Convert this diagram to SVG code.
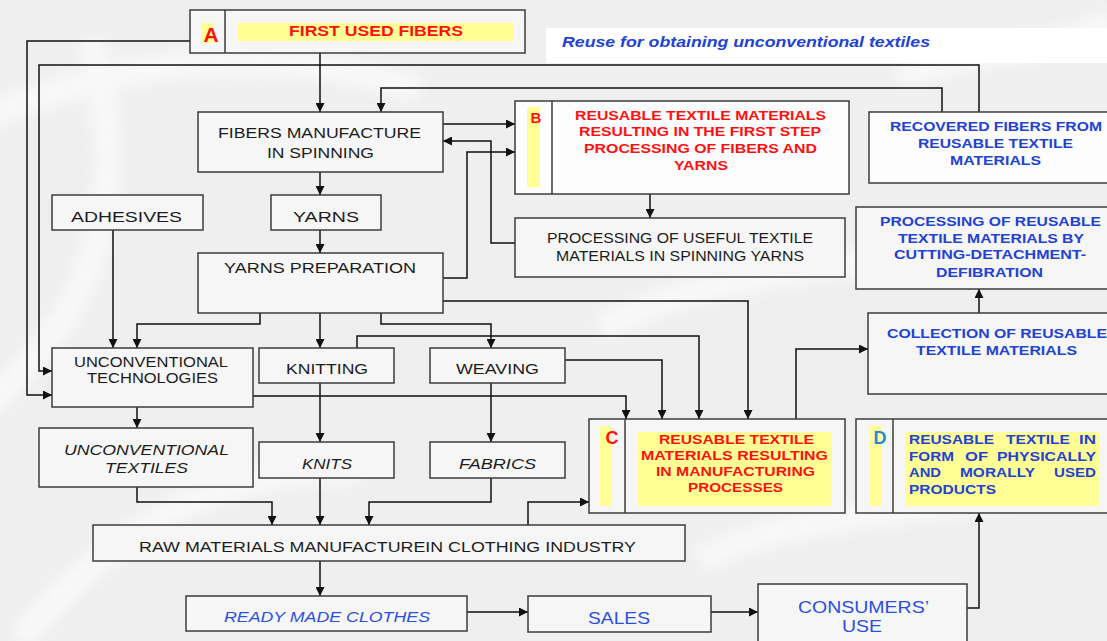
<svg xmlns="http://www.w3.org/2000/svg" width="1107" height="641" viewBox="0 0 1107 641">
<defs>
<marker id="ah" viewBox="0 0 10 10" refX="10" refY="5" markerWidth="9" markerHeight="9" markerUnits="userSpaceOnUse" orient="auto"><path d="M0,0 L10,5 L0,10 z" fill="#111"/></marker>
<filter id="blur" x="-20%" y="-20%" width="140%" height="140%"><feGaussianBlur stdDeviation="7"/></filter>
<style>
.box{fill:#f6f6f6;stroke:#3c3c3c;stroke-width:1.5}
.wbox{fill:#fdfdfd;stroke:#3c3c3c;stroke-width:1.5}
.div{stroke:#3c3c3c;stroke-width:1.5}
.yel{fill:#ffff96}
.t{font-family:"Liberation Sans",Arial,sans-serif;font-size:15px;fill:#1c1c1c}
.ti{font-family:"Liberation Sans",Arial,sans-serif;font-size:15px;font-style:italic;fill:#1c1c1c}
.red{font-family:"Liberation Sans",Arial,sans-serif;font-size:13.5px;font-weight:bold;fill:#ff1010}
.blue{font-family:"Liberation Sans",Arial,sans-serif;font-size:13.5px;font-weight:bold;fill:#2242d2}
.lb{font-family:"Liberation Sans",Arial,sans-serif;font-size:17px;fill:#2b50dc}
.lbi{font-family:"Liberation Sans",Arial,sans-serif;font-size:15.5px;font-style:italic;fill:#2b50dc}
.conn path{fill:none;stroke:#111;stroke-width:1.5;marker-end:url(#ah)}
</style>
</defs>
<rect x="0" y="0" width="1107" height="641" fill="#efefef"/>
<g filter="url(#blur)" fill="none" stroke="#fcfcfc" stroke-width="26" opacity="0.7">
<path d="M-20,120 C120,60 260,40 420,90"/>
<path d="M-30,420 C80,330 140,220 90,40"/>
<path d="M20,640 C120,520 220,470 360,470"/>
<path d="M600,330 C720,260 860,280 980,230"/>
<path d="M700,560 C820,500 960,520 1110,470"/>
<path d="M900,80 C980,40 1050,60 1110,20"/>
</g>
<rect x="546" y="28" width="561" height="35" fill="#ffffff"/>
<text class="blue" x="562" y="47" style="font-style:italic;font-size:15px" textLength="368" lengthAdjust="spacingAndGlyphs">Reuse for obtaining unconventional textiles</text>

<g class="conn" id="connectors">
<path d="M320,53 V112"/>
<path d="M190,41 H27 V395 H52"/>
<path d="M979,112 V65 H39 V371 H52"/>
<path d="M942,112 V88 H381 V112"/>
<path d="M443,124 H515"/>
<path d="M515,243 H491 V141 H443"/>
<path d="M443,278 H467 V152 H515"/>
<path d="M650,194 V218"/>
<path d="M320,172 V195"/>
<path d="M320,230 V253"/>
<path d="M113,230 V348"/>
<path d="M260,313 V324 H137 V348"/>
<path d="M320,313 V348"/>
<path d="M381,313 V324 H491 V348"/>
<path d="M443,301 H748 V419"/>
<path d="M357,348 V336 H699 V419"/>
<path d="M565,360 H662 V419"/>
<path d="M253,396 H626 V419"/>
<path d="M796,419 V349 H868"/>
<path d="M979,313 V289"/>
<path d="M137,407 V428"/>
<path d="M320,383 V442"/>
<path d="M491,383 V442"/>
<path d="M137,487 V502 H272 V525"/>
<path d="M320,478 V525"/>
<path d="M491,478 V502 H369 V525"/>
<path d="M528,525 V502 H589"/>
<path d="M320,561 V596"/>
<path d="M467,612 H528"/>
<path d="M711,612 H758"/>
<path d="M967,608 H979 V513"/>
</g>

<g id="nodeA">
<rect class="box" x="190" y="10" width="335" height="43"/>
<line class="div" x1="225" y1="10" x2="225" y2="53"/>
<rect class="yel" x="202" y="23" width="12" height="20"/>
<rect class="yel" x="237" y="23" width="276" height="18"/>
<text class="red" x="211" y="42" style="font-size:21px" text-anchor="middle">A</text>
<text class="red" x="289" y="36" style="font-size:14.5px" textLength="174" lengthAdjust="spacingAndGlyphs">FIRST USED FIBERS</text>
</g>

<g id="fibersManufacture">
<rect class="box" x="198" y="112" width="245" height="60"/>
<text class="t" x="218" y="138" textLength="203" lengthAdjust="spacingAndGlyphs">FIBERS MANUFACTURE</text>
<text class="t" x="267" y="158" textLength="107" lengthAdjust="spacingAndGlyphs">IN SPINNING</text>
</g>

<g id="nodeB">
<rect class="wbox" x="515" y="101" width="334" height="93"/>
<line class="div" x1="552" y1="101" x2="552" y2="194"/>
<rect class="yel" x="527" y="107" width="13" height="80"/>
<text class="red" x="536" y="123" style="font-size:15px" text-anchor="middle">B</text>
<text class="red" x="575" y="120" textLength="251" lengthAdjust="spacingAndGlyphs">REUSABLE TEXTILE MATERIALS</text>
<text class="red" x="579" y="136" textLength="242" lengthAdjust="spacingAndGlyphs">RESULTING IN THE FIRST STEP</text>
<text class="red" x="584" y="153" textLength="233" lengthAdjust="spacingAndGlyphs">PROCESSING OF FIBERS AND</text>
<text class="red" x="674" y="170" textLength="54" lengthAdjust="spacingAndGlyphs">YARNS</text>
</g>

<g id="recoveredFibers">
<rect class="wbox" x="869" y="112" width="250" height="71"/>
<text class="blue" x="890" y="131" textLength="212" lengthAdjust="spacingAndGlyphs">RECOVERED FIBERS FROM</text>
<text class="blue" x="918" y="148" textLength="155" lengthAdjust="spacingAndGlyphs">REUSABLE TEXTILE</text>
<text class="blue" x="950" y="165" textLength="91" lengthAdjust="spacingAndGlyphs">MATERIALS</text>
</g>

<g id="adhesives">
<rect class="box" x="52" y="195" width="151" height="35"/>
<text class="t" x="71" y="222" textLength="111" lengthAdjust="spacingAndGlyphs">ADHESIVES</text>
</g>

<g id="yarns">
<rect class="box" x="271" y="195" width="110" height="35"/>
<text class="t" x="293" y="222" textLength="66" lengthAdjust="spacingAndGlyphs">YARNS</text>
</g>

<g id="processingUseful">
<rect class="box" x="515" y="218" width="330" height="59"/>
<text class="t" x="547" y="243" textLength="266" lengthAdjust="spacingAndGlyphs">PROCESSING OF USEFUL TEXTILE</text>
<text class="t" x="556" y="261" textLength="248" lengthAdjust="spacingAndGlyphs">MATERIALS IN SPINNING YARNS</text>
</g>

<g id="yarnsPreparation">
<rect class="box" x="198" y="253" width="245" height="60"/>
<text class="t" x="224" y="273" textLength="192" lengthAdjust="spacingAndGlyphs">YARNS PREPARATION</text>
</g>

<g id="processingReusable">
<rect class="box" x="856" y="207" width="262" height="82"/>
<text class="blue" x="880" y="226" textLength="221" lengthAdjust="spacingAndGlyphs">PROCESSING OF REUSABLE</text>
<text class="blue" x="898" y="243" textLength="186" lengthAdjust="spacingAndGlyphs">TEXTILE MATERIALS BY</text>
<text class="blue" x="894" y="259" textLength="192" lengthAdjust="spacingAndGlyphs">CUTTING-DETACHMENT-</text>
<text class="blue" x="936" y="277" textLength="107" lengthAdjust="spacingAndGlyphs">DEFIBRATION</text>
</g>

<g id="collection">
<rect class="box" x="868" y="313" width="250" height="81"/>
<text class="blue" x="887" y="338" textLength="220" lengthAdjust="spacingAndGlyphs">COLLECTION OF REUSABLE</text>
<text class="blue" x="916" y="355" textLength="161" lengthAdjust="spacingAndGlyphs">TEXTILE MATERIALS</text>
</g>

<g id="unconventionalTechnologies">
<rect class="box" x="52" y="348" width="201" height="59"/>
<text class="t" x="74" y="367" textLength="154" lengthAdjust="spacingAndGlyphs">UNCONVENTIONAL</text>
<text class="t" x="87" y="383" textLength="131" lengthAdjust="spacingAndGlyphs">TECHNOLOGIES</text>
</g>

<g id="knitting">
<rect class="box" x="259" y="348" width="135" height="35"/>
<text class="t" x="286" y="374" textLength="82" lengthAdjust="spacingAndGlyphs">KNITTING</text>
</g>

<g id="weaving">
<rect class="box" x="430" y="348" width="135" height="35"/>
<text class="t" x="456" y="374" textLength="83" lengthAdjust="spacingAndGlyphs">WEAVING</text>
</g>

<g id="nodeC">
<rect class="box" x="589" y="419" width="256" height="94"/>
<line class="div" x1="625" y1="419" x2="625" y2="513"/>
<rect class="yel" x="600" y="426" width="12" height="80"/>
<rect class="yel" x="637" y="432" width="195" height="74"/>
<text class="red" x="612" y="444" style="font-size:18px" text-anchor="middle">C</text>
<text class="red" x="659" y="444" textLength="155" lengthAdjust="spacingAndGlyphs">REUSABLE TEXTILE</text>
<text class="red" x="641" y="460" textLength="187" lengthAdjust="spacingAndGlyphs">MATERIALS RESULTING</text>
<text class="red" x="656" y="476" textLength="159" lengthAdjust="spacingAndGlyphs">IN MANUFACTURING</text>
<text class="red" x="688" y="492" textLength="95" lengthAdjust="spacingAndGlyphs">PROCESSES</text>
</g>

<g id="nodeD">
<rect class="box" x="856" y="419" width="262" height="94"/>
<line class="div" x1="893" y1="419" x2="893" y2="513"/>
<rect class="yel" x="869" y="426" width="13" height="80"/>
<rect class="yel" x="905" y="432" width="194" height="74"/>
<text class="blue" x="880" y="444" style="font-size:18px;fill:#1e8ad4" text-anchor="middle">D</text>
<text class="blue" y="444"><tspan x="909" textLength="85" lengthAdjust="spacingAndGlyphs">REUSABLE</tspan><tspan x="1006" textLength="64" lengthAdjust="spacingAndGlyphs">TEXTILE</tspan><tspan x="1079" textLength="17" lengthAdjust="spacingAndGlyphs">IN</tspan></text>
<text class="blue" y="461"><tspan x="909" textLength="45" lengthAdjust="spacingAndGlyphs">FORM</tspan><tspan x="965" textLength="23" lengthAdjust="spacingAndGlyphs">OF</tspan><tspan x="997" textLength="99" lengthAdjust="spacingAndGlyphs">PHYSICALLY</tspan></text>
<text class="blue" y="477"><tspan x="909" textLength="32" lengthAdjust="spacingAndGlyphs">AND</tspan><tspan x="960" textLength="75" lengthAdjust="spacingAndGlyphs">MORALLY</tspan><tspan x="1054" textLength="42" lengthAdjust="spacingAndGlyphs">USED</tspan></text>
<text class="blue" x="909" y="494" textLength="87" lengthAdjust="spacingAndGlyphs">PRODUCTS</text>
</g>

<g id="unconventionalTextiles">
<rect class="box" x="39" y="428" width="214" height="59"/>
<text class="ti" x="64" y="455" textLength="165" lengthAdjust="spacingAndGlyphs">UNCONVENTIONAL</text>
<text class="ti" x="105" y="473" textLength="83" lengthAdjust="spacingAndGlyphs">TEXTILES</text>
</g>

<g id="knits">
<rect class="box" x="259" y="442" width="135" height="36"/>
<text class="ti" x="302" y="469" textLength="50" lengthAdjust="spacingAndGlyphs">KNITS</text>
</g>

<g id="fabrics">
<rect class="box" x="430" y="442" width="135" height="36"/>
<text class="ti" x="459" y="469" textLength="77" lengthAdjust="spacingAndGlyphs">FABRICS</text>
</g>

<g id="rawMaterials">
<rect class="box" x="93" y="525" width="592" height="36"/>
<text class="t" x="139" y="552" textLength="497" lengthAdjust="spacingAndGlyphs">RAW MATERIALS MANUFACTUREIN CLOTHING INDUSTRY</text>
</g>

<g id="readyMadeClothes">
<rect class="box" x="186" y="596" width="281" height="35"/>
<text class="lbi" x="224" y="622" textLength="206" lengthAdjust="spacingAndGlyphs">READY MADE CLOTHES</text>
</g>

<g id="sales">
<rect class="box" x="528" y="596" width="183" height="36"/>
<text class="lb" x="588" y="624" textLength="62" lengthAdjust="spacingAndGlyphs">SALES</text>
</g>

<g id="consumersUse">
<rect class="box" x="758" y="584" width="209" height="70"/>
<text class="lb" x="798" y="613" textLength="131" lengthAdjust="spacingAndGlyphs">CONSUMERS’</text>
<text class="lb" x="842" y="632" textLength="40" lengthAdjust="spacingAndGlyphs">USE</text>
</g>
</svg>
